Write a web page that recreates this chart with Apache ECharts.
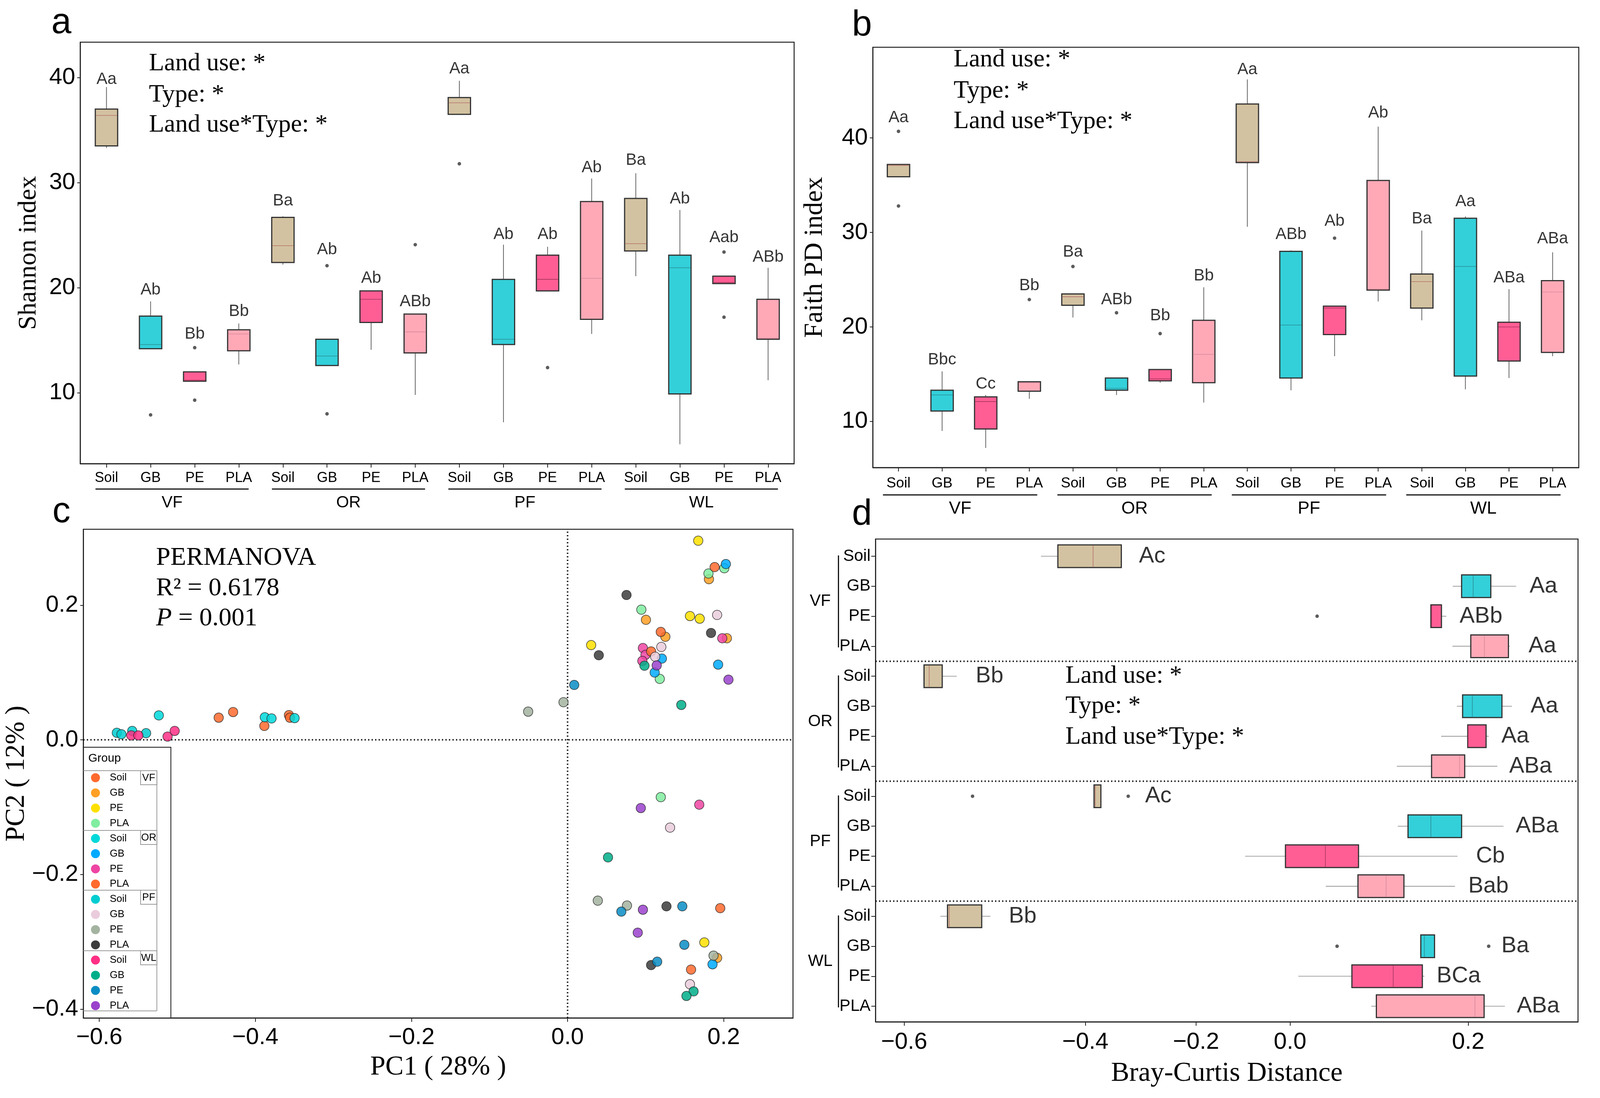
<!DOCTYPE html>
<html><head><meta charset="utf-8">
<script src="https://cdn.jsdelivr.net/npm/echarts@6/dist/echarts.min.js"></script>
<style>html,body{margin:0;padding:0;background:#fff;overflow:hidden}</style>
</head><body><div id="c"></div>
<script>
// ---------- shared categories ----------
const groups = ['VF','OR','PF','WL'];
const types = ['Soil','GB','PE','PLA'];
const boxIndex = [0,1,2,3,4,5,6,7,8,9,10,11,12,13,14,15];

// ---------- panel a : Shannon index  [lowerWhisker, Q1, median, Q3, upperWhisker] ----------
const shannonBox = [
  [33.3,33.5,36.4,37.0,39.1],[14.2,14.2,14.6,17.3,18.7],[11.1,11.1,11.2,12.0,12.0],[12.7,14.0,15.6,16.0,16.6],
  [22.2,22.4,24.0,26.7,26.8],[12.6,12.6,13.5,15.1,15.1],[14.1,16.7,18.9,19.7,19.7],[9.8,13.8,15.8,17.5,17.5],
  [36.5,36.5,37.6,38.1,39.7],[7.2,14.6,15.1,20.8,24.1],[19.7,19.7,20.8,23.1,23.9],[15.6,17.0,20.9,28.2,30.4],
  [21.1,23.5,24.2,28.5,30.9],[5.1,9.9,21.9,23.1,27.4],[20.4,20.4,20.5,21.1,21.1],[11.2,15.1,15.2,18.9,21.9]
];
const shannonOutliers = [[1,7.9],[2,14.3],[2,9.3],[5,22.1],[5,8.0],[7,24.1],[8,31.8],[10,12.4],[14,23.4],[14,17.2]];
const shannonLetters = ['Aa','Ab','Bb','Bb','Ba','Ab','Ab','ABb','Aa','Ab','Ab','Ab','Ba','Ab','Aab','ABb'];
const shannonLetterAt = [39.84,19.8,15.6,17.76,28.26,23.6,20.9,18.68,40.83,25.08,25.05,31.44,32.14,28.45,24.76,22.91];
const shannonTicks = [10,20,30,40];

// ---------- panel b : Faith PD index ----------
const faithBox = [
  [35.9,35.9,37.1,37.2,37.2],[9.0,11.1,12.8,13.3,15.3],[7.2,9.2,12.1,12.6,12.8],[12.4,13.2,14.1,14.2,14.2],
  [21.0,22.3,23.2,23.5,23.5],[12.8,13.3,13.5,14.6,14.6],[14.1,14.3,14.5,15.5,15.5],[12.0,14.1,17.1,20.7,24.2],
  [30.6,37.4,37.5,43.6,46.2],[13.3,14.6,20.2,28.0,28.1],[16.9,19.2,22.0,22.2,22.2],[22.7,23.9,24.0,35.5,41.2],
  [20.7,22.0,24.8,25.6,30.2],[13.4,14.8,26.4,31.5,31.7],[14.6,16.4,20.0,20.5,24.0],[16.9,17.3,23.7,24.9,27.9]
];
const faithOutliers = [[0,40.7],[0,32.8],[3,22.9],[4,26.4],[5,21.5],[6,19.3],[10,29.4]];
const faithLetters = ['Aa','Bbc','Cc','Bb','Ba','ABb','Bb','Bb','Aa','ABb','Ab','Ab','Ba','Aa','ABa','ABa'];
const faithLetterAt = [42.16,16.5,13.96,24.38,27.92,22.86,21.2,25.41,47.24,29.79,31.2,42.65,31.45,33.25,25.19,29.33];
const faithTicks = [10,20,30,40];

// ---------- panel c : PCoA ----------
const pcoaSeriesNames = ['VF-Soil','VF-GB','VF-PE','VF-PLA','OR-Soil','OR-GB','OR-PE','OR-PLA',
                         'PF-Soil','PF-GB','PF-PE','PF-PLA','WL-Soil','WL-GB','WL-PE','WL-PLA'];
const pcoaColors = ['#FF6A2E','#FFA024','#FFE000','#80EDA0','#00D8DA','#00AAFF','#EE45A2','#FF6A2E',
                    '#00CDD0','#EACCDC','#A3B3A0','#3C3C3C','#FF2F86','#00AE8A','#0A8DC4','#9A42CC'];
const pcoaPoints = {
  'VF-Soil': [[-0.447,0.033],[-0.4285,0.0414],[-0.3885,0.0207],[-0.357,0.0369],[-0.3557,0.033]],
  'VF-GB':   [[0.1811,0.2388],[0.1004,0.1784],[0.1253,0.1532],[0.2041,0.151],[0.1916,-0.3238]],
  'VF-PE':   [[0.1674,0.2959],[0.1568,0.184],[0.1693,0.1801],[0.0302,0.1409],[0.1752,-0.3009]],
  'VF-PLA':  [[0.2008,0.255],[0.1805,0.2472],[0.0945,0.1935],[0.1181,0.0906],[0.1194,-0.085]],
  'OR-Soil': [[-0.3879,0.0336],[-0.3793,0.0319],[-0.3498,0.0324],[-0.5237,0.0364]],
  'OR-GB':   [[0.2028,0.2612],[0.1208,0.1208],[0.1116,0.1001],[0.1929,0.1119],[0.1857,-0.3333]],
  'OR-PE':   [[0.0965,0.1365],[0.0998,0.1264],[0.0958,0.1174],[0.1982,0.151],[0.1687,-0.0962]],
  'OR-PLA':  [[0.1884,0.2567],[0.1194,0.1605],[0.107,0.1314],[0.1956,-0.25],[0.1582,-0.3412]],
  'PF-Soil': [[-0.5775,0.0106],[-0.5716,0.0084],[-0.5578,0.0134],[-0.540,0.010]],
  'PF-GB':   [[0.1916,0.1857],[0.1201,0.1381],[0.1122,0.1236],[0.1313,-0.1303],[0.1568,-0.363]],
  'PF-PE':   [[-0.0505,0.042],[-0.0052,0.056],[0.0387,-0.2388],[0.0761,-0.2461],[0.187,-0.3205]],
  'PF-PLA':  [[0.0755,0.2153],[0.1838,0.1588],[0.04,0.1258],[0.1267,-0.2472],[0.107,-0.3345]],
  'WL-Soil': [[-0.559,0.0067],[-0.550,0.0067],[-0.5125,0.005],[-0.5034,0.0134]],
  'WL-GB':   [[0.0985,0.1102],[0.1457,0.052],[0.0518,-0.1745],[0.1614,-0.3736],[0.1523,-0.3803]],
  'WL-PE':   [[0.0085,0.0817],[0.0689,-0.255],[0.147,-0.2472],[0.1496,-0.3043],[0.1148,-0.3294]],
  'WL-PLA':  [[0.1142,0.1107],[0.2061,0.0895],[0.0938,-0.1012],[0.0965,-0.2522],[0.0899,-0.2864]]
};
const pcoaXTicks = [-0.6,-0.4,-0.2,0,0.2];
const pcoaYTicks = [-0.4,-0.2,0,0.2];

// ---------- panel d : Bray-Curtis distance (read on the printed, unevenly spaced axis) ----------
const brayBox = [
  [-0.406,-0.382,-0.332,-0.292,-0.292],[0.178,0.1906,0.207,0.232,0.268],[0.147,0.147,0.148,0.162,0.169],[0.1776,0.2036,0.223,0.257,0.259],
  [-0.5718,-0.5718,-0.5645,-0.546,-0.5254],[0.184,0.192,0.2058,0.2478,0.262],[0.1616,0.1993,0.2,0.2253,0.229],[0.0987,0.148,0.1877,0.195,0.2413],
  [-0.3307,-0.3307,-0.329,-0.321,-0.321],[0.100,0.1146,0.147,0.1906,0.25],[-0.1164,-0.0592,-0.0027,0.0444,0.1848],[-0.002,0.0436,0.0835,0.1088,0.1812],
  [-0.5486,-0.5385,-0.536,-0.49,-0.4776],[0.1327,0.1327,0.1378,0.1522,0.1522],[-0.041,0.035,0.0936,0.1349,0.1378],[0.0625,0.0697,0.2095,0.2225,0.252]
];
const brayOutliers = [[2,-0.0143],[8,-0.503],[8,-0.2822],[13,0.014],[13,0.229]];
const brayLetters = ['Ac','Aa','ABb','Aa','Bb','Aa','Aa','ABa','Ac','ABa','Cb','Bab','Bb','Ba','BCa','ABa'];
const brayLetterAt = [-0.267,0.287,0.1877,0.2855,-0.4986,0.2883,0.247,0.258,-0.2583,0.2673,0.2109,0.2,-0.4516,0.247,0.1551,0.2688];
const brayTickPos = [-0.6,-0.343,-0.186,-0.0527,0.2];
const brayTickLabels = ['\u22120.6','\u22120.4','\u22120.2','0.0','0.2'];

// ---------- page geometry: the layout is designed for 4223 px wide, fitted to the real viewport ----------
const VW = Math.min(window.innerWidth || 4223, 4223);
const VH = 2811;
const SX = VW / 4223;
const X = v => v * SX;
const el = document.getElementById('c');
el.style.width = VW + 'px'; el.style.height = VH + 'px';

// ---------- styles ----------
const SANS = "'Liberation Sans', Arial, Helvetica, sans-serif";
const SERIF = "'Liberation Serif', 'Times New Roman', Times, serif";
const boxFill = ['#D3C2A1','#33D0DA','#FF5E94','#FFA9B7'];
const medianCol = ['#B5736C','#2B8E94','#A8355E','#D98A98'];
const BOXW_V = X(59), BOXW_H = 58;

function fmtNum(v){ const r = Math.round(v*10)/10; return (r<0?'\u2212':'') + Math.abs(r).toFixed(1); }

function boxRender(horizontal){
  return function(params, api){
    const c = api.value(0);
    const v = [1,2,3,4,5].map(i => api.value(i));
    const P = val => horizontal ? api.coord([val, c]) : api.coord([c, val]);
    const p = v.map(P);
    const t = c % 4;
    const ws = horizontal ? {stroke:'#8a8a8a', lineWidth:1.6} : {stroke:'#555', lineWidth:1.8};
    const ch = [];
    if(!horizontal){
      const x = p[0][0], h = BOXW_V/2;
      ch.push({type:'line', shape:{x1:x,y1:p[4][1],x2:x,y2:p[3][1]}, style:ws});
      ch.push({type:'line', shape:{x1:x,y1:p[1][1],x2:x,y2:p[0][1]}, style:ws});
      ch.push({type:'rect', shape:{x:x-h,y:p[3][1],width:BOXW_V,height:Math.max(p[1][1]-p[3][1],1)}, style:{fill:boxFill[t],stroke:'#333',lineWidth:3}});
      ch.push({type:'line', shape:{x1:x-h+1.5,y1:p[2][1],x2:x+h-1.5,y2:p[2][1]}, style:{stroke:medianCol[t],lineWidth:1.6}});
    } else {
      const y = p[0][1], h = BOXW_H/2;
      ch.push({type:'line', shape:{x1:p[0][0],y1:y,x2:p[1][0],y2:y}, style:ws});
      ch.push({type:'line', shape:{x1:p[3][0],y1:y,x2:p[4][0],y2:y}, style:ws});
      ch.push({type:'rect', shape:{x:p[1][0],y:y-h,width:Math.max(p[3][0]-p[1][0],1),height:BOXW_H}, style:{fill:boxFill[t],stroke:'#333',lineWidth:3}});
      ch.push({type:'line', shape:{x1:p[2][0],y1:y-h+1.5,x2:p[2][0],y2:y+h-1.5}, style:{stroke:medianCol[t],lineWidth:1.6}});
    }
    return {type:'group', children:ch};
  };
}

const axisLineS = {show:true, onZero:false, lineStyle:{color:'#222', width:2.5}};
const tickS = (vals, len) => ({show:true, customValues:vals, length:len, lineStyle:{color:'#222', width:2}});
const typeLabel = v => types[Math.round(v) % 4];

const grids = [
  {left:X(212), top:108, width:X(1884), height:1079},
  {left:X(2304), top:121, width:X(1863), height:1076},
  {left:X(220), top:1355, width:X(1873), height:1251},
  {left:X(2311), top:1380, width:X(1854), height:1236}
].map(g => Object.assign(g, {show:true, borderColor:'#222', borderWidth:2.5, backgroundColor:'transparent', containLabel:false}));

const xAxis = [
  {gridIndex:0, type:'value', min:-0.593, max:15.59, splitLine:{show:false}, axisLine:axisLineS,
   axisTick:tickS(boxIndex,10), axisLabel:{customValues:boxIndex, formatter:typeLabel, fontSize:36, fontFamily:SANS, color:'#000', margin:19}},
  {gridIndex:1, type:'value', min:-0.586, max:15.6, splitLine:{show:false}, axisLine:axisLineS,
   axisTick:tickS(boxIndex,10), axisLabel:{customValues:boxIndex, formatter:typeLabel, fontSize:37, fontFamily:SANS, color:'#000', margin:22}},
  {gridIndex:2, type:'value', min:-0.6204, max:0.2888, splitLine:{show:false}, axisLine:axisLineS,
   axisTick:tickS(pcoaXTicks,10), axisLabel:{customValues:pcoaXTicks, formatter:fmtNum, fontSize:60, fontFamily:SANS, color:'#000', margin:20},
   name:'PC1 ( 28% )', nameLocation:'middle', nameGap:92, nameTextStyle:{fontSize:70, fontFamily:SERIF, color:'#000'}},
  {gridIndex:3, type:'value', min:-0.6405, max:0.3557, splitLine:{show:false}, axisLine:axisLineS,
   axisTick:tickS(brayTickPos,10),
   axisLabel:{customValues:brayTickPos, fontSize:60, fontFamily:SANS, color:'#000', margin:22,
     formatter:v => { let b=0; brayTickPos.forEach((t,i)=>{ if(Math.abs(t-v)<Math.abs(brayTickPos[b]-v)) b=i; }); return brayTickLabels[b]; }},
   name:'Bray-Curtis Distance', nameLocation:'middle', nameGap:98, nameTextStyle:{fontSize:70, fontFamily:SERIF, color:'#000'}}
];
const yAxis = [
  {gridIndex:0, type:'value', min:3.26, max:43.37, splitLine:{show:false}, axisLine:axisLineS,
   axisTick:tickS(shannonTicks,8), axisLabel:{customValues:shannonTicks, fontSize:60, fontFamily:SANS, color:'#000', margin:13},
   name:'Shannon index', nameLocation:'middle', nameGap:X(102), nameTextStyle:{fontSize:66, fontFamily:SERIF, color:'#000'}},
  {gridIndex:1, type:'value', min:5.12, max:49.6, splitLine:{show:false}, axisLine:axisLineS,
   axisTick:tickS(faithTicks,8), axisLabel:{customValues:faithTicks, fontSize:60, fontFamily:SANS, color:'#000', margin:13},
   name:'Faith PD index', nameLocation:'middle', nameGap:X(118), nameTextStyle:{fontSize:68, fontFamily:SERIF, color:'#000'}},
  {gridIndex:2, type:'value', min:-0.413, max:0.3129, splitLine:{show:false}, axisLine:axisLineS,
   axisTick:tickS(pcoaYTicks,8), axisLabel:{customValues:pcoaYTicks, formatter:fmtNum, fontSize:60, fontFamily:SANS, color:'#000', margin:13},
   name:'PC2 ( 12% )', nameLocation:'middle', nameGap:X(104), nameTextStyle:{fontSize:70, fontFamily:SERIF, color:'#000'}},
  {gridIndex:3, type:'value', inverse:true, min:-0.573, max:15.52, splitLine:{show:false}, axisLine:axisLineS,
   axisTick:tickS(boxIndex,11), axisLabel:{customValues:boxIndex, formatter:typeLabel, fontSize:42, fontFamily:SANS, color:'#000', margin:13}}
];

function boxSeries(idx, arr, horizontal){
  return {type:'custom', xAxisIndex:idx, yAxisIndex:idx, silent:true, renderItem:boxRender(horizontal),
    encode: horizontal ? {y:0, x:[1,2,3,4,5]} : {x:0, y:[1,2,3,4,5]},
    data: arr.map((b,i)=>[i].concat(b)), z:2};
}
function outlierSeries(idx, arr, horizontal, extra){
  return Object.assign({type:'scatter', xAxisIndex:idx, yAxisIndex:idx, silent:true, symbolSize:9,
    itemStyle:{color:'#333'}, data: arr.map(o => horizontal ? [o[1],o[0]] : [o[0],o[1]]), z:3}, extra||{});
}
function letterSeries(idx, letters, at, horizontal, fs){
  return {type:'scatter', xAxisIndex:idx, yAxisIndex:idx, silent:true, symbolSize:0.1,
    itemStyle:{color:'rgba(0,0,0,0)'},
    label:{show:true, position: horizontal ? 'right' : 'inside', distance:0, fontSize:fs, fontFamily:SANS, color:'#000',
      formatter:p => letters[p.dataIndex]},
    data: at.map((v,i) => horizontal ? [v,i] : [i,v]), z:4};
}

const series = [
  boxSeries(0, shannonBox, false), outlierSeries(0, shannonOutliers, false), letterSeries(0, shannonLetters, shannonLetterAt, false, 42),
  boxSeries(1, faithBox, false), outlierSeries(1, faithOutliers, false), letterSeries(1, faithLetters, faithLetterAt, false, 42),
  boxSeries(3, brayBox, true),
  outlierSeries(3, brayOutliers, true, {markLine:{silent:true, symbol:['none','none'], label:{show:false},
    lineStyle:{color:'#111', width:4, type:[3,6]}, data:[{yAxis:3.5},{yAxis:7.5},{yAxis:11.5}]}}),
  letterSeries(3, brayLetters, brayLetterAt, true, 58)
];
pcoaSeriesNames.forEach((n,i) => {
  const s = {type:'scatter', name:n, xAxisIndex:2, yAxisIndex:2, symbolSize:24,
    itemStyle:{color:pcoaColors[i], opacity:0.85, borderColor:'#222', borderWidth:1.5},
    data:pcoaPoints[n], z:3};
  if(i===0) s.markLine = {silent:true, symbol:['none','none'], label:{show:false}, z:1,
    lineStyle:{color:'#111', width:4, type:[3,6]}, data:[{xAxis:0},{yAxis:0}]};
  series.push(s);
});

const txt = (text, x, y, size, fam, extra) => ({type:'text', silent:true, z:10,
  style:Object.assign({text, x:X(x), y, fontSize:size, fontFamily:fam, fill:'#000', verticalAlign:'middle', align:'left'}, extra||{})});

const chart = echarts.init(el, null, {renderer:'canvas', width:VW, height:VH});
chart.setOption({
  animation:false, backgroundColor:'#fff',
  grid:grids, xAxis, yAxis, series,
  legend:{orient:'vertical', left:X(252)-11.5, top:1978, itemWidth:23, itemHeight:23, itemGap:12.9, padding:0,
    icon:'circle', data:pcoaSeriesNames, formatter:n => n.split('-')[1], selectedMode:false,
    itemStyle:{opacity:1, borderWidth:0},
    textStyle:{fontSize:26, lineHeight:26, fontFamily:SANS, color:'#000', padding:[0,0,0,20]}}
});

// ---------- annotations ----------
const g = [];
const panelLetter = (t,x,y) => g.push(txt(t,x,y,92,SANS,{align:'center'}));
panelLetter('a',162,60); panelLetter('b',2275,66); panelLetter('c',162,1312); panelLetter('d',2275,1318);

const anova = ['Land use: *','Type: *','Land use*Type: *'];
[[393,163],[393,243],[393,320]].forEach((p,i)=>g.push(txt(anova[i],p[0],p[1],64,SERIF)));
[[2517,153],[2517,233],[2517,311]].forEach((p,i)=>g.push(txt(anova[i],p[0],p[1],64,SERIF)));
[[2812,1731],[2812,1808],[2812,1887]].forEach((p,i)=>g.push(txt(anova[i],p[0],p[1],64,SERIF)));

g.push(txt('PERMANOVA',412,1429,66,SERIF));
g.push(txt('R\u00B2 = 0.6178',412,1507,66,SERIF));
g.push({type:'text', silent:true, z:10, style:{text:'{i|P} = 0.001', x:X(412), y:1584, verticalAlign:'middle', align:'left',
  fontSize:66, fontFamily:SERIF, fill:'#000', rich:{i:{fontStyle:'italic', fontSize:66, fontFamily:SERIF}}}});

// group underlines + labels, panels a and b (positioned from the axes)
[[0,-29,26,1252,1287,42],[1,-41,21,1267,1303,45]].forEach(([ax,dl,dr,yl,yt,fs]) => {
  groups.forEach((gn,k) => {
    const x1 = chart.convertToPixel({xAxisIndex:ax}, 4*k) + X(dl);
    const x2 = chart.convertToPixel({xAxisIndex:ax}, 4*k+3) + X(dr);
    g.push({type:'line', silent:true, shape:{x1, y1:yl, x2, y2:yl}, style:{stroke:'#111', lineWidth:3}});
    g.push({type:'text', silent:true, z:10, style:{text:gn, x:(x1+x2)/2, y:yt, fontSize:fs, fontFamily:SANS, fill:'#000', verticalAlign:'middle', align:'center'}});
  });
});
// group brackets + labels, panel d
groups.forEach((gn,k) => {
  const y1 = chart.convertToPixel({yAxisIndex:3}, 4*k) - 2;
  const y2 = chart.convertToPixel({yAxisIndex:3}, 4*k+3) + 3;
  g.push({type:'line', silent:true, shape:{x1:X(2213), y1, x2:X(2213), y2}, style:{stroke:'#111', lineWidth:3}});
  g.push(txt(gn,2165,(y1+y2)/2,42,SANS,{align:'center'}));
});

// legend frame for panel c
g.push({type:'rect', silent:true, z:0, shape:{x:X(220), y:1913, width:X(231), height:693}, style:{fill:'#fff', stroke:'#111', lineWidth:2}});
g.push(txt('Group',233,1942,30,SANS));
const sepY = [1973,2126,2279,2434,2588];
sepY.forEach(y => g.push({type:'line', silent:true, z:1, shape:{x1:X(220),y1:y,x2:X(414),y2:y}, style:{stroke:'#9a9a9a', lineWidth:2}}));
g.push({type:'line', silent:true, z:1, shape:{x1:X(414),y1:1973,x2:X(414),y2:2588}, style:{stroke:'#9a9a9a', lineWidth:2}});
groups.forEach((gn,k) => {
  g.push({type:'rect', silent:true, z:1, shape:{x:X(371), y:sepY[k], width:X(43), height:36}, style:{fill:'#fff', stroke:'#9a9a9a', lineWidth:2}});
  g.push(txt(gn,392.5,sepY[k]+19,26,SANS,{align:'center'}));
});

chart.setOption({graphic:{elements:g}});
</script>
</body></html>
